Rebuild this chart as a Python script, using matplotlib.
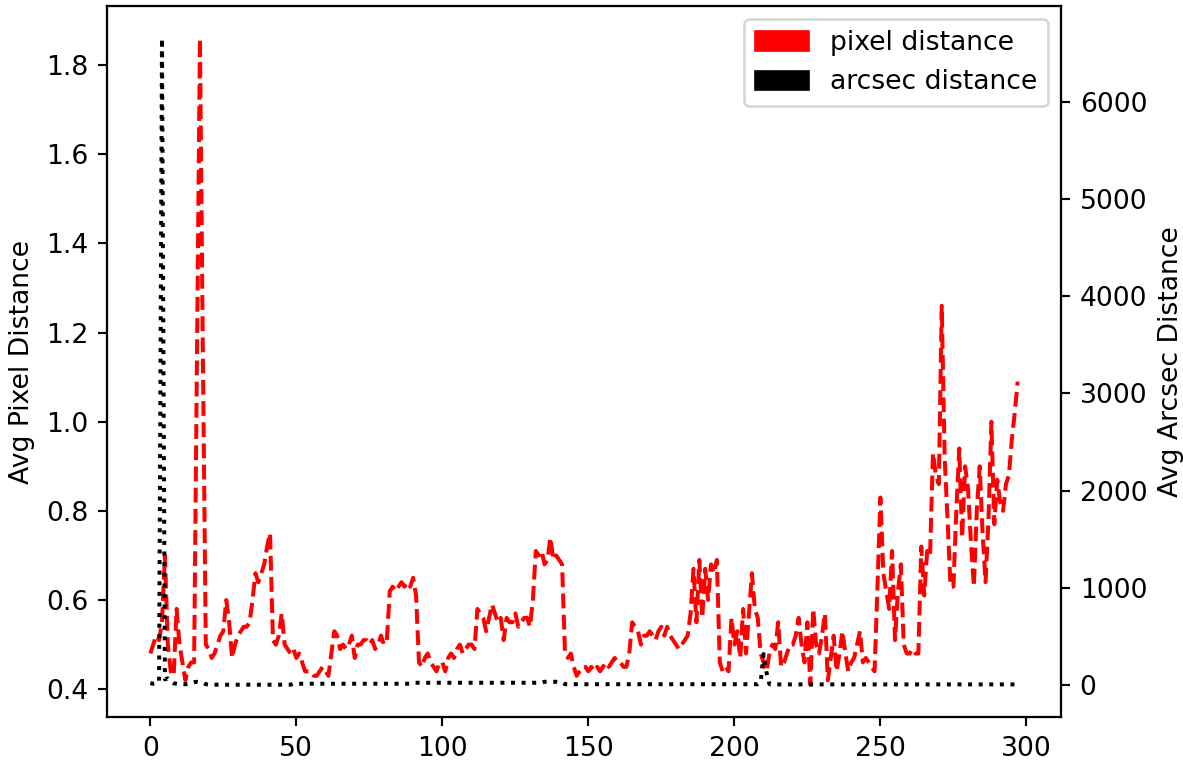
import matplotlib
matplotlib.use("Agg")
import matplotlib.pyplot as plt
import matplotlib.patches as mpatches
import numpy as np

# Avg pixel distance per frame (left axis)
pixel_dist = [
    0.48, 0.50, 0.52, 0.51, 0.55, 0.70, 0.50, 0.44, 0.43, 0.58,
    0.50, 0.46, 0.42, 0.45, 0.46, 0.46, 1.15, 1.86, 1.15, 0.50,
    0.49, 0.47, 0.48, 0.50, 0.52, 0.53, 0.60, 0.55, 0.47, 0.50,
    0.52, 0.53, 0.54, 0.54, 0.55, 0.60, 0.66, 0.64, 0.66, 0.68,
    0.72, 0.75, 0.51, 0.50, 0.52, 0.57, 0.50, 0.49, 0.48, 0.49,
    0.47, 0.48, 0.46, 0.44, 0.44, 0.44, 0.43, 0.43, 0.44, 0.45,
    0.44, 0.43, 0.48, 0.53, 0.52, 0.49, 0.50, 0.49, 0.50, 0.52,
    0.47, 0.50, 0.50, 0.51, 0.51, 0.50, 0.51, 0.49, 0.50, 0.52,
    0.50, 0.51, 0.62, 0.63, 0.62, 0.63, 0.64, 0.63, 0.64, 0.63,
    0.65, 0.61, 0.46, 0.45, 0.47, 0.48, 0.46, 0.45, 0.44, 0.46,
    0.46, 0.44, 0.47, 0.48, 0.47, 0.49, 0.50, 0.48, 0.49, 0.50,
    0.50, 0.49, 0.58, 0.57, 0.56, 0.53, 0.56, 0.59, 0.57, 0.55,
    0.56, 0.51, 0.56, 0.55, 0.55, 0.57, 0.54, 0.55, 0.56, 0.56,
    0.54, 0.60, 0.71, 0.70, 0.71, 0.68, 0.69, 0.74, 0.69, 0.70,
    0.69, 0.68, 0.48, 0.47, 0.48, 0.45, 0.43, 0.44, 0.45, 0.45,
    0.44, 0.45, 0.44, 0.45, 0.44, 0.45, 0.46, 0.45, 0.46, 0.47,
    0.46, 0.46, 0.45, 0.45, 0.48, 0.55, 0.54, 0.53, 0.50, 0.52,
    0.52, 0.53, 0.52, 0.51, 0.53, 0.54, 0.52, 0.54, 0.52, 0.51,
    0.50, 0.49, 0.50, 0.51, 0.52, 0.57, 0.67, 0.55, 0.69, 0.56,
    0.67, 0.60, 0.68, 0.66, 0.69, 0.46, 0.44, 0.45, 0.44, 0.56,
    0.50, 0.53, 0.47, 0.58, 0.48, 0.57, 0.66, 0.58, 0.56, 0.48,
    0.46, 0.44, 0.48, 0.50, 0.49, 0.55, 0.45, 0.46, 0.48, 0.50,
    0.50, 0.52, 0.56, 0.50, 0.46, 0.55, 0.41, 0.58, 0.50, 0.48,
    0.52, 0.57, 0.42, 0.47, 0.52, 0.44, 0.48, 0.53, 0.48, 0.44,
    0.46, 0.47, 0.50, 0.53, 0.46, 0.47, 0.46, 0.45, 0.44, 0.63,
    0.83, 0.66, 0.62, 0.58, 0.71, 0.51, 0.62, 0.68, 0.50, 0.48,
    0.48, 0.49, 0.48, 0.48, 0.72, 0.61, 0.71, 0.70, 0.93, 0.88,
    0.86, 1.26, 0.92, 0.78, 0.63, 0.63, 0.80, 0.94, 0.74, 0.90,
    0.85, 0.73, 0.63, 0.80, 0.90, 0.75, 0.64, 0.78, 1.00, 0.77,
    0.87, 0.82, 0.80, 0.86, 0.88, 0.96, 1.02, 1.09,
]

# Avg arcsec distance per frame (right axis)
arcsec_dist = [
    20, 15, 20, 30, 6650, 60, 70, 40, 20, 15,
    10, 10, 10, 15, 20, 30, 35, 30, 25, 10,
    5, 5, 5, 5, 5, 5, 5, 5, 5, 5,
    5, 5, 5, 5, 5, 5, 5, 5, 5, 5,
    5, 5, 5, 5, 5, 5, 5, 5, 5, 15,
    15, 15, 15, 15, 15, 15, 15, 15, 15, 15,
    15, 15, 15, 15, 15, 15, 15, 15, 15, 15,
    15, 15, 15, 15, 15, 15, 15, 15, 15, 15,
    15, 15, 15, 15, 15, 15, 15, 15, 15, 15,
    25, 25, 25, 25, 25, 25, 25, 25, 25, 25,
    25, 25, 25, 25, 25, 25, 25, 25, 25, 25,
    25, 25, 25, 25, 25, 25, 25, 25, 25, 25,
    25, 25, 25, 25, 25, 25, 25, 25, 25, 25,
    25, 25, 25, 25, 25, 35, 35, 35, 35, 35,
    30, 30, 10, 10, 10, 10, 10, 10, 10, 10,
    10, 10, 10, 10, 10, 10, 10, 10, 10, 10,
    10, 10, 10, 10, 10, 10, 10, 10, 10, 10,
    10, 10, 10, 10, 10, 10, 10, 10, 10, 10,
    10, 10, 10, 10, 10, 10, 10, 10, 10, 10,
    10, 10, 10, 10, 10, 10, 10, 10, 10, 10,
    10, 10, 10, 10, 10, 10, 10, 10, 10, 30,
    320, 130, 10, 8, 8, 8, 8, 8, 8, 8,
    8, 8, 8, 8, 8, 8, 8, 8, 8, 8,
    8, 8, 8, 8, 8, 8, 8, 8, 8, 8,
    8, 8, 8, 8, 8, 8, 8, 8, 8, 8,
    8, 8, 8, 8, 8, 8, 8, 8, 8, 8,
    8, 8, 8, 8, 8, 8, 8, 8, 8, 8,
    8, 8, 8, 8, 8, 8, 8, 8, 8, 8,
    8, 8, 8, 8, 8, 8, 8, 8, 8, 8,
    8, 8, 8, 8, 8, 8, 8, 8,
]

frames = np.arange(len(pixel_dist))

fig = plt.figure(figsize=(1183 / 192, 761 / 192), dpi=192)
fig.subplots_adjust(left=0.0904, right=0.8969, bottom=0.0578, top=0.992)

ax1 = fig.add_subplot(111)
ax1.plot(frames, pixel_dist, 'r--')
ax1.set_ylabel('Avg Pixel Distance')

ax2 = ax1.twinx()
ax2.plot(frames, arcsec_dist, 'k:')
ax2.set_ylabel('Avg Arcsec Distance')

red_patch = mpatches.Patch(color='red', label='pixel distance')
black_patch = mpatches.Patch(color='black', label='arcsec distance')
ax2.legend(handles=[red_patch, black_patch], loc='upper right')

plt.savefig('out.png', dpi=192)
